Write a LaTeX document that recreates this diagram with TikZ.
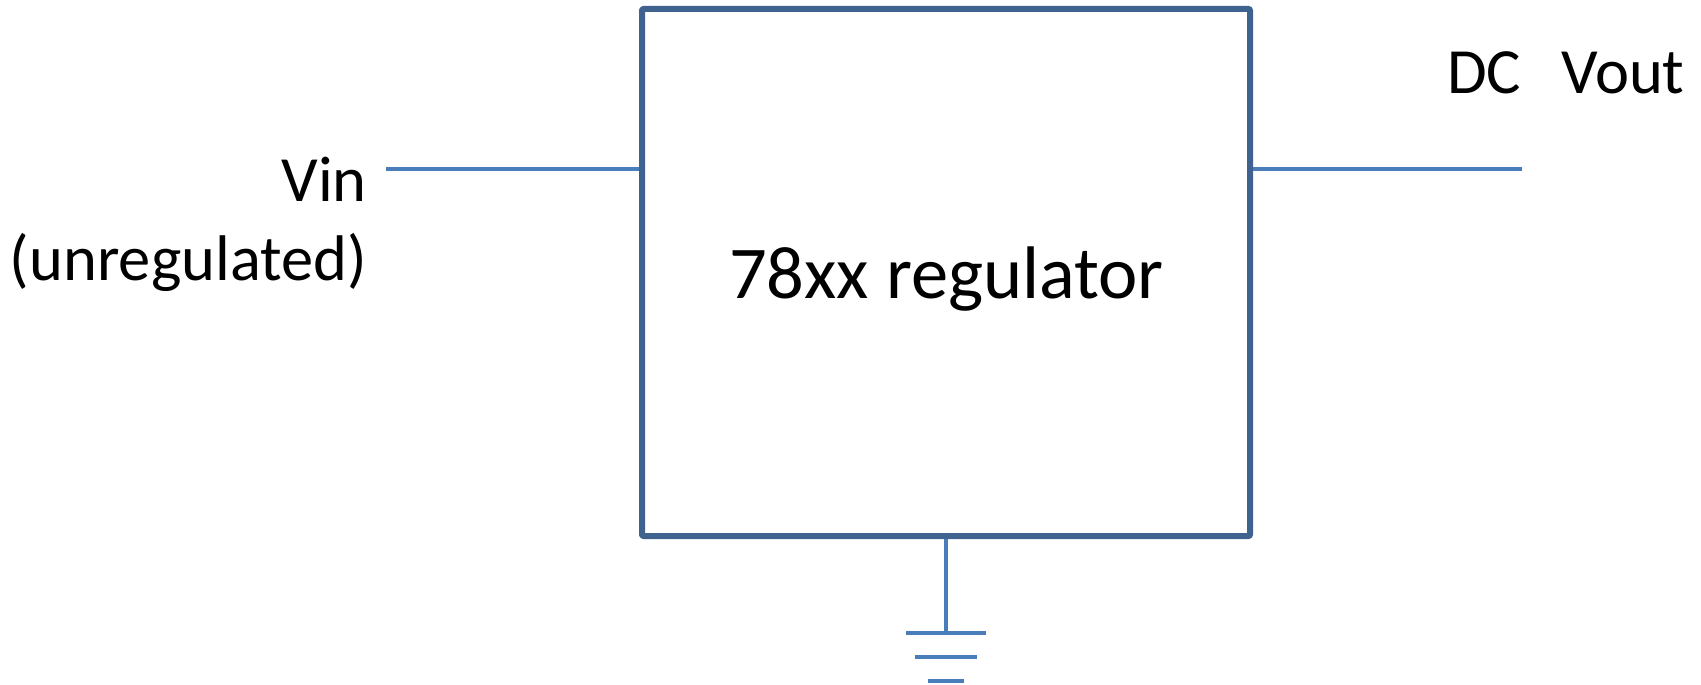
\documentclass[tikz,border=0pt]{standalone}
\usepackage{fontspec}
\setmainfont{Carlito}
\definecolor{boxblue}{HTML}{3F628F}
\definecolor{wireblue}{HTML}{4A7EBB}
\tikzset{
  wire/.style={draw=wireblue,line width=4pt},
  regbox/.style={draw=boxblue,line width=6pt,line join=round,rounded corners=1pt,minimum width=608pt,minimum height=527pt,inner sep=0pt},
  lbl/.style={inner sep=0pt,text=black,font=\fontsize{64.5}{78}\selectfont}
}
\begin{document}
\begin{tikzpicture}[x=1pt,y=-1pt]
\useasboundingbox (0,0) rectangle (1701,685);
\coordinate (inA) at (386,169);
\coordinate (inB) at (642,169);
\coordinate (outA) at (1250,169);
\coordinate (outB) at (1522,169);
\draw[wire] (inA) -- (inB);
\draw[wire] (outA) -- (outB);
\coordinate (stemTop) at (946,537);
\coordinate (g1) at (946,633);
\draw[wire] (stemTop) -- (g1);
\coordinate (g1a) at (906,633); \coordinate (g1b) at (986,633);
\coordinate (g2a) at (915,657); \coordinate (g2b) at (977,657);
\coordinate (g3a) at (928,681); \coordinate (g3b) at (964,681);
\draw[wire] (g1a) -- (g1b);
\draw[wire] (g2a) -- (g2b);
\draw[wire] (g3a) -- (g3b);
\node[regbox] (reg) at (946,272.5) {};
\node[anchor=base,inner sep=0pt,font=\fontsize{74.5}{90}\selectfont] (title) at (946.5,298) {78xx regulator};
\node[lbl,anchor=base east] (vin) at (367,201) {Vin};
\node[lbl,anchor=base east] (unreg) at (367,280) {(unregulated)};
\node[lbl,anchor=base west] (dc) at (1447,94) {DC};
\node[lbl,anchor=base west] (vout) at (1561,94) {Vout};
\end{tikzpicture}
\end{document}
